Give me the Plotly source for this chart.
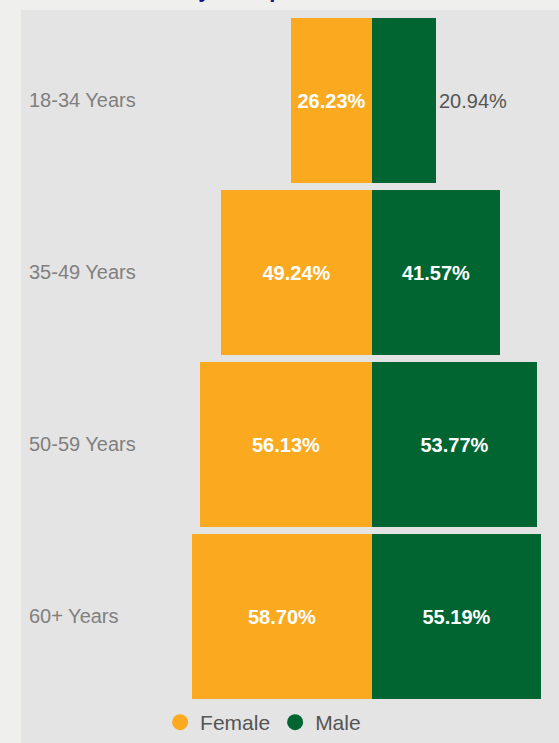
import plotly.graph_objects as go

categories = ["18-34 Years", "35-49 Years", "50-59 Years", "60+ Years"]
female = [26.23, 49.24, 56.13, 58.70]
male = [20.94, 41.57, 53.77, 55.19]
male_textpos = ["outside", "inside", "inside", "inside"]
series_names = ["Female", "Male"]
title_text = "Rate by Group"

ORANGE = "#FBAA1F"
GREEN = "#006531"
FONT = "Liberation Sans, Arial, sans-serif"

ypos = list(range(len(categories)))

fig = go.Figure()
fig.add_trace(go.Bar(
    y=ypos, x=[-v for v in female], orientation="h", name=series_names[0],
    marker=dict(color=ORANGE, line=dict(width=0)), width=0.96,
    text=[f"{v:.2f}%" for v in female], textposition="inside",
    insidetextanchor="middle", textangle=0,
    insidetextfont=dict(family=FONT, size=20, color="#FFFFFF", weight="bold"),
    showlegend=False, hoverinfo="skip",
))
fig.add_trace(go.Bar(
    y=ypos, x=male, orientation="h", name=series_names[1],
    marker=dict(color=GREEN, line=dict(width=0)), width=0.96,
    text=[f"{v:.2f}%" for v in male], textposition=male_textpos,
    insidetextanchor="middle", textangle=0,
    insidetextfont=dict(family=FONT, size=20, color="#FFFFFF", weight="bold"),
    outsidetextfont=dict(family=FONT, size=20, color="#555555"),
    cliponaxis=False,
    showlegend=False, hoverinfo="skip",
))
# legend entries with round markers
for name, col in zip(series_names, [ORANGE, GREEN]):
    fig.add_trace(go.Scatter(
        x=[None], y=[None], mode="markers", name=name,
        marker=dict(symbol="circle", size=17, color=col),
    ))

fig.add_annotation(
    text=title_text, xref="paper", yref="paper", x=(207 - 21) / 538, y=1,
    xanchor="center", yanchor="bottom", yshift=6, showarrow=False,
    font=dict(family=FONT, size=22, color="#14148F", weight="bold"),
)

fig.update_layout(
    width=559, height=743,
    margin=dict(l=21, r=0, t=10, b=0, pad=0),
    paper_bgcolor="#EFEFED", plot_bgcolor="#E4E4E4",
    barmode="relative", bargap=0,
    showlegend=True,
    legend=dict(
        orientation="h", x=0.45, xanchor="center", y=0.028, yanchor="middle",
        font=dict(family=FONT, size=21, color="#555555"),
        bgcolor="rgba(0,0,0,0)", itemsizing="trace", traceorder="normal",
        itemwidth=30, tracegroupgap=0,
    ),
    xaxis=dict(range=[-114.3, 60.9], visible=False, fixedrange=True),
    yaxis=dict(
        range=[3.736, -0.526], tickvals=ypos, ticktext=categories,
        ticklabelposition="inside", ticklabelstandoff=5, ticks="",
        showgrid=False, zeroline=False, showline=False, fixedrange=True,
        tickfont=dict(family=FONT, size=20, color="#808080"),
    ),
)

fig.write_html(
    "out.html",
    config={"displayModeBar": False},
    post_script="document.body.style.margin='0';document.body.style.background='#EFEFED';",
)
